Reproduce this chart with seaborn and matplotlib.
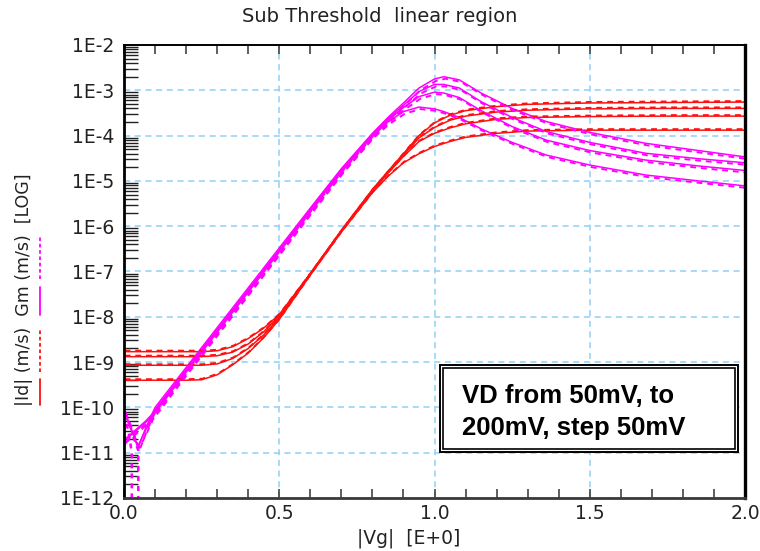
import numpy as np
import pandas as pd
import matplotlib
matplotlib.use("Agg")
import matplotlib.pyplot as plt
import matplotlib.transforms as mtransforms
from matplotlib.patches import Rectangle
from matplotlib.lines import Line2D
from matplotlib.ticker import FixedLocator, FuncFormatter, LogLocator, NullFormatter, MultipleLocator
import seaborn as sns

# ---------------- data (log10 values) ----------------
vd_labels = ["50mV", "100mV", "150mV", "200mV"]

# |Id| curves
id_vg = [0.0, 0.1, 0.2, 0.25, 0.3, 0.35, 0.4, 0.45, 0.5, 0.6, 0.7, 0.8, 0.85,
         0.9, 0.95, 1.0, 1.05, 1.1, 1.2, 1.3, 1.5, 1.75, 2.0]
id_log_50 = [-9.40, -9.40, -9.40, -9.39, -9.28, -9.06, -8.80, -8.46, -8.06, -7.08, -6.13, -5.26, -4.90,
             -4.60, -4.40, -4.24, -4.13, -4.04, -3.95, -3.90, -3.88, -3.88, -3.88]
id_log_100 = [-9.07, -9.07, -9.07, -9.07, -9.04, -8.92, -8.70, -8.40, -8.02, -7.06, -6.11, -5.22, -4.83,
              -4.46, -4.13, -3.95, -3.83, -3.74, -3.64, -3.60, -3.58, -3.57, -3.57]
id_log_150 = [-8.88, -8.88, -8.88, -8.88, -8.86, -8.78, -8.60, -8.33, -7.98, -7.05, -6.10, -5.20, -4.80,
              -4.42, -4.05, -3.82, -3.66, -3.57, -3.48, -3.44, -3.41, -3.40, -3.40]
id_log_200 = [-8.77, -8.77, -8.77, -8.77, -8.75, -8.66, -8.48, -8.25, -7.95, -7.05, -6.10, -5.20, -4.80,
              -4.40, -4.00, -3.72, -3.55, -3.45, -3.36, -3.31, -3.28, -3.27, -3.26]

# Gm curves
gm_vg = [0.0, 0.02, 0.045, 0.07, 0.1, 0.2, 0.3, 0.4, 0.5, 0.6, 0.7, 0.8, 0.85, 0.9,
         0.95, 1.0, 1.03, 1.08, 1.15, 1.25, 1.36, 1.5, 1.68, 1.85, 2.0]
gm_log_50 = [-10.75, -10.62, -10.48, -10.33, -10.12, -9.22, -8.34, -7.45, -6.56, -5.67, -4.79, -4.00, -3.70, -3.47,
             -3.37, -3.41, -3.47, -3.60, -3.85, -4.15, -4.43, -4.65, -4.87, -5.00, -5.11]
gm_log_100 = [-10.72, -10.60, -10.45, -10.30, -10.08, -9.18, -8.30, -7.42, -6.54, -5.65, -4.77, -3.98, -3.66, -3.38,
              -3.14, -3.04, -3.06, -3.16, -3.45, -3.80, -4.10, -4.33, -4.54, -4.67, -4.77]
gm_log_150 = [-10.10, -10.45, -10.85, -10.50, -10.05, -9.16, -8.28, -7.40, -6.52, -5.63, -4.75, -3.97, -3.63, -3.33,
              -3.03, -2.87, -2.87, -2.95, -3.25, -3.60, -3.91, -4.15, -4.39, -4.51, -4.60]
gm_log_200 = [-10.06, -10.40, -10.90, -10.45, -10.00, -9.12, -8.24, -7.36, -6.48, -5.60, -4.73, -3.95, -3.60, -3.28,
              -2.95, -2.75, -2.70, -2.77, -3.06, -3.40, -3.69, -3.93, -4.17, -4.33, -4.47]

# measured Gm plunging through zero near Vg ~ 0.03-0.05
gm_dip_vg_a = [0.0, 0.015, 0.025, 0.025]
gm_dip_log_a = [-10.15, -10.55, -11.0, -12.6]
gm_dip_vg_b = [0.03, 0.046, 0.046]
gm_dip_log_b = [-10.65, -10.95, -12.6]

x_ticks = [0.0, 0.5, 1.0, 1.5, 2.0]
y_decades = list(range(-12, -1))

title_text = "Sub Threshold  linear region"
xlabel_text = "|Vg|  [E+0]"
ylabel_parts = ["|Id|", " ", "(m/s)", "  ", "Gm", " ", "(m/s)", "  ", "[LOG]"]
box_lines = ["VD from 50mV, to", "200mV, step 50mV"]


def long_frame(vg, curves):
    rows = []
    for vd, logs in zip(vd_labels, curves):
        for v, l in zip(vg, logs):
            rows.append((v, 10.0 ** l, vd))
    return pd.DataFrame(rows, columns=["Vg", "val", "VD"])


df_id = long_frame(id_vg, [id_log_50, id_log_100, id_log_150, id_log_200])
df_gm = long_frame(gm_vg, [gm_log_50, gm_log_100, gm_log_150, gm_log_200])
df_dip = pd.concat([
    pd.DataFrame({"Vg": gm_dip_vg_a, "val": 10.0 ** np.array(gm_dip_log_a), "VD": "a"}),
    pd.DataFrame({"Vg": gm_dip_vg_b, "val": 10.0 ** np.array(gm_dip_log_b), "VD": "b"}),
])

# ---------------- figure ----------------
sns.set_style("white")
plt.rcParams["font.family"] = ["DejaVu Sans"]

W, H = 760, 551
fig = plt.figure(figsize=(W / 100, H / 100), dpi=100)
AX_L, AX_R, AX_T, AX_B = 124, 745, 45, 498
ax = fig.add_axes([AX_L / W, (H - AX_B) / H, (AX_R - AX_L) / W, (AX_B - AX_T) / H])
ax.set_facecolor("white")
ax.set_yscale("log")
ax.set_xlim(0, 2)
ax.set_ylim(1e-12, 1e-2)

RED = "#FF1010"
MAG = "#FF00FF"

# solid curves
sns.lineplot(data=df_id, x="Vg", y="val", units="VD", estimator=None, sort=False,
             color=RED, lw=1.1, ax=ax, legend=False)
sns.lineplot(data=df_gm, x="Vg", y="val", units="VD", estimator=None, sort=False,
             color=MAG, lw=1.1, ax=ax, legend=False)

# dashed (measured) companions, drawn slightly offset
n0 = len(ax.lines)
sns.lineplot(data=df_id, x="Vg", y="val", units="VD", estimator=None, sort=False,
             color=RED, lw=1.4, ax=ax, legend=False)
n1 = len(ax.lines)
sns.lineplot(data=df_gm, x="Vg", y="val", units="VD", estimator=None, sort=False,
             color=MAG, lw=1.4, ax=ax, legend=False)
n2 = len(ax.lines)
sns.lineplot(data=df_dip, x="Vg", y="val", units="VD", estimator=None, sort=False,
             color=MAG, lw=1.8, ax=ax, legend=False)
n3 = len(ax.lines)
shift_red = mtransforms.offset_copy(ax.transData, fig=fig, x=0.6, y=1.0, units="dots")
shift_mag = mtransforms.offset_copy(ax.transData, fig=fig, x=1.5, y=-2.0, units="dots")
for ln in ax.lines[n0:n1]:
    ln.set_linestyle((0, (3, 2.5)))
    ln.set_transform(shift_red)
for ln in ax.lines[n1:n2]:
    ln.set_linestyle((0, (3, 2.5)))
    ln.set_transform(shift_mag)
for ln in ax.lines[n2:n3]:
    ln.set_linestyle((0, (2, 2)))

# ---------------- axes styling ----------------
ax.xaxis.set_major_locator(FixedLocator(x_ticks))
ax.xaxis.set_minor_locator(MultipleLocator(0.1))
ax.xaxis.set_major_formatter(FuncFormatter(lambda v, p: f"{v:.1f}"))
ax.yaxis.set_major_locator(FixedLocator([10.0 ** k for k in y_decades]))
ax.yaxis.set_minor_locator(LogLocator(base=10, subs=np.arange(2, 10), numticks=200))
ax.yaxis.set_minor_formatter(NullFormatter())
ax.yaxis.set_major_formatter(FuncFormatter(lambda v, p: f"1E{int(round(np.log10(v)))}"))

ax.grid(True, which="major", color="#8FD0F5", linestyle=(0, (4, 3)), lw=1.1)
ax.grid(False, which="minor")

lab_col = "#222222"
ax.tick_params(axis="x", which="both", direction="in", top=True, bottom=True,
               length=6.5, width=1.1, color="#333333", labelsize=13.5, pad=4,
               labelcolor=lab_col)
ax.tick_params(axis="y", which="minor", direction="in", left=True, right=False,
               length=10, width=1.0, color="#222222")
ax.tick_params(axis="y", which="major", direction="in", left=True, right=False,
               length=0, width=1.0, labelsize=13.5, pad=7, labelcolor=lab_col)

for side, lw, col in [("left", 2.0, "black"), ("bottom", 2.0, "#3a3a3a"),
                      ("right", 2.4, "black"), ("top", 1.4, "black")]:
    ax.spines[side].set_visible(True)
    ax.spines[side].set_linewidth(lw)
    ax.spines[side].set_color(col)
    ax.spines[side].set_zorder(5)
ax.set_xlabel("")
ax.set_ylabel("")

# ---------------- texts ----------------
fig.text(0.5, 1 - 17 / H, title_text, ha="center", va="center",
         fontsize=14, color=lab_col)
fig.text(409 / W, 1 - 538 / H, xlabel_text, ha="center", va="center",
         fontsize=13.5, color=lab_col)

ylab_fs = 12.5
ylab = fig.text(24 / W, 1 - 290 / H, "".join(ylabel_parts), rotation=90,
                ha="center", va="center", fontsize=ylab_fs, color=lab_col)

# legend-like colour keys beside the y label, aligned with the label words
renderer = fig.canvas.get_renderer()
bb = ylab.get_window_extent(renderer)


def text_len(s):
    if not s:
        return 0.0
    t = fig.text(0, 0, s, fontsize=ylab_fs)
    w = t.get_window_extent(renderer).width
    t.remove()
    return w


starts = []
acc = ""
for part in ylabel_parts:
    starts.append((text_len(acc), text_len(acc + part)))
    acc += part

key_x = 40 / W
keys = [(0, RED, "-"), (2, RED, (0, (2, 1.5))), (4, MAG, "-"), (6, MAG, (0, (2, 1.5)))]
for idx, col, ls in keys:
    a, b = starts[idx]
    y0 = (bb.y0 + a + 1) / H
    y1 = (bb.y0 + b - 1) / H
    fig.add_artist(Line2D([key_x, key_x], [y0, y1], transform=fig.transFigure,
                          color=col, lw=1.3, linestyle=ls))

# annotation box
def axfrac(xpx, ypx):
    return (xpx - AX_L) / (AX_R - AX_L), (AX_B - ypx) / (AX_B - AX_T)


bx0, by0 = axfrac(440, 452)
bx1, by1 = axfrac(738, 365)
ax.add_patch(Rectangle((bx0, by0), bx1 - bx0, by1 - by0, transform=ax.transAxes,
                       facecolor="white", edgecolor="black", lw=1.4, zorder=6))
ix0, iy0 = axfrac(443, 449)
ix1, iy1 = axfrac(735, 368)
ax.add_patch(Rectangle((ix0, iy0), ix1 - ix0, iy1 - iy0, transform=ax.transAxes,
                       facecolor="none", edgecolor="black", lw=1.2, zorder=6))
for line, base in zip(box_lines, [403, 435]):
    tx, ty = axfrac(462, base)
    ax.text(tx, ty, line, transform=ax.transAxes, ha="left", va="baseline",
            fontsize=18.5, fontweight="bold", family=["Liberation Sans", "DejaVu Sans"],
            color="black", zorder=7)

fig.savefig("out.png", dpi=100, facecolor="white")
